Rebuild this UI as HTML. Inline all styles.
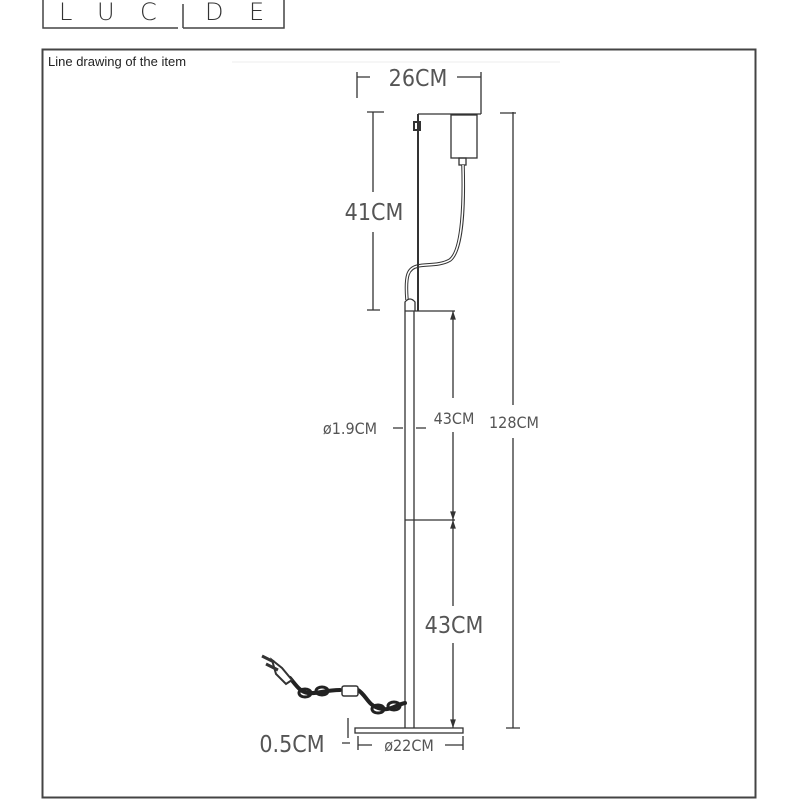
<!DOCTYPE html>
<html><head><meta charset="utf-8"><style>
body{margin:0;background:#fff;width:800px;height:800px;overflow:hidden}
svg{position:absolute;left:0;top:0}
text{font-family:"DejaVu Sans Condensed","DejaVu Sans","Liberation Sans",sans-serif;font-stretch:condensed;fill:#555}
.logo{font-family:"DejaVu Sans ExtraLight","DejaVu Sans",sans-serif;font-weight:200;font-stretch:normal;fill:#333}
</style></head><body>
<svg width="800" height="800" viewBox="0 0 800 800">
<g fill="none" stroke="#444" stroke-width="1.5">
<path d="M43 0V28H178"/><path d="M183 28H284V0"/><path d="M183 28V4"/>
</g>
<g font-size="24" class="logo">
<text class="logo" x="59" y="20">L</text>
<text class="logo" x="97" y="20">U</text>
<text class="logo" x="140" y="20">C</text>
<text class="logo" x="205" y="20">D</text>
<text class="logo" x="249" y="20">E</text>
</g>
<rect x="42.5" y="49.5" width="713" height="748" fill="none" stroke="#444" stroke-width="2"/>
<text x="48" y="66" font-size="13" style="fill:#222;font-family:'Liberation Sans',sans-serif;font-stretch:normal">Line drawing of the item</text>
<line x1="232" y1="62" x2="560" y2="62" stroke="#eee"/>
<g stroke="#333" stroke-width="1.3" fill="none">
<path d="M357 77H370M457 77H481M357 72V98M481 72V114"/>
<path d="M418 114H481"/>
<rect x="451" y="115" width="26" height="43"/>
<rect x="459" y="158" width="7" height="7"/>
<path d="M463 165 C464 200 463 250 450 260 C440 266 425 264 418 266 C408 268 405 275 407 300" stroke-width="3.5"/>
<path d="M463 165 C464 200 463 250 450 260 C440 266 425 264 418 266 C408 268 405 275 407 300" stroke="#fff" stroke-width="1.5"/>
<path d="M418 114V311" stroke-width="2"/>
<rect x="414" y="122" width="6" height="8" stroke-width="2"/>
<path d="M405 311V302Q410 296 415 302V311"/>
<path d="M373 112V192M373 232V310M367 112H384M367 310H380"/>
<path d="M513 112V405M513 438V728M500 113H516M506 728H520"/>
<path d="M405 311V728M414 311V728M405 311H455M405 520H455"/>
<path d="M453 311V398M453 432V520M453 520V606M453 643V728"/>
<path d="M453 313l-2 6h4zM453 518l-2 -6h4zM453 522l-2 6h4zM453 726l-2 -6h4z" fill="#333"/>
<path d="M393 428H403M416 428H426"/>
<rect x="355" y="728" width="108" height="5"/>
<path d="M358 736V750M463 736V750M358 745H372M445 745H463"/>
<path d="M348 718V738M342 743H350"/>
</g>
<g stroke="#222" fill="none" stroke-width="4" stroke-linecap="round">
<path d="M290 678C296 685 300 692 308 693C318 694 325 690 340 690"/>
<path d="M358 690C366 695 368 705 378 708C390 712 395 705 405 703"/>
<ellipse cx="305" cy="693" rx="6" ry="4" stroke-width="3"/>
<ellipse cx="322" cy="691" rx="6" ry="4" stroke-width="3"/>
<ellipse cx="378" cy="709" rx="6" ry="4" stroke-width="3"/>
<ellipse cx="394" cy="706" rx="6" ry="4" stroke-width="3"/>
</g>
<g stroke="#333" fill="none" stroke-width="1.5">
<rect x="342" y="686" width="16" height="10" rx="2" fill="#fff"/>
<path d="M272 660L282 668L292 680L286 684L276 674Z" fill="#fff" stroke-width="2"/>
<path d="M262 656L274 662M266 664L278 670" stroke-width="3"/>
</g>
<g font-size="23" text-anchor="middle">
<text x="418" y="86">26CM</text>
<text x="374" y="220">41CM</text>
<text x="454" y="633">43CM</text>
<text x="292" y="752">0.5CM</text>
</g>
<g font-size="16" text-anchor="middle">
<text x="350" y="434">ø1.9CM</text>
<text x="454" y="424">43CM</text>
<text x="514" y="428">128CM</text>
<text x="409" y="751">ø22CM</text>
</g>
</svg>
</body></html>
